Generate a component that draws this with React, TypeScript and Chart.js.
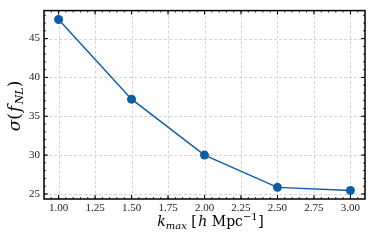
import React, { useEffect, useRef } from "react";
import { Chart, registerables } from "chart.js";

Chart.register(...registerables);

const kmax = [1.0, 1.5, 2.0, 2.5, 3.0];
const sigmaFNL = [47.45, 37.2, 30.0, 25.85, 25.45];
const xMajorTicks = [1.0, 1.25, 1.5, 1.75, 2.0, 2.25, 2.5, 2.75, 3.0];
const yMajorTicks = [25, 30, 35, 40, 45];

const LINE_COLOR = "#0C5DA5";
const FONT = "'Liberation Serif', 'DejaVu Serif', serif";
const TFONT = "'DejaVu Serif', serif";

function range(a: number, b: number, step: number) {
  const out: number[] = [];
  for (let v = a; v <= b + 1e-9; v += step) out.push(Math.round(v * 1000) / 1000);
  return out;
}

const framePlugin = {
  id: "framePlugin",
  beforeDatasetsDraw(chart: any) {
    const { ctx, chartArea: a, scales } = chart;
    const xs = scales.x, ys = scales.y;
    ctx.save();
    ctx.beginPath();
    ctx.rect(a.left, a.top, a.right - a.left, a.bottom - a.top);
    ctx.clip();
    ctx.strokeStyle = "#c9c9c9";
    ctx.lineWidth = 0.8;
    ctx.setLineDash([3, 2]);
    for (const v of xMajorTicks) {
      const px = Math.round(xs.getPixelForValue(v)) + 0.5;
      ctx.beginPath();
      ctx.moveTo(px, a.top);
      ctx.lineTo(px, a.bottom);
      ctx.stroke();
    }
    for (const v of yMajorTicks) {
      const py = Math.round(ys.getPixelForValue(v)) + 0.5;
      ctx.beginPath();
      ctx.moveTo(a.left, py);
      ctx.lineTo(a.right, py);
      ctx.stroke();
    }
    ctx.restore();
  },
  afterDatasetsDraw(chart: any) {
    const { ctx, chartArea: a, scales } = chart;
    const xs = scales.x, ys = scales.y;
    ctx.save();
    ctx.strokeStyle = "#000";
    ctx.setLineDash([]);
    ctx.lineWidth = 0.8;
    const xMin = range(0.95, 3.05, 0.05);
    const yMin = range(25, 48, 1);
    for (const v of xMin) {
      const px = xs.getPixelForValue(v);
      ctx.beginPath();
      ctx.moveTo(px, a.bottom); ctx.lineTo(px, a.bottom - 2);
      ctx.moveTo(px, a.top); ctx.lineTo(px, a.top + 2);
      ctx.stroke();
    }
    for (const v of yMin) {
      const py = ys.getPixelForValue(v);
      ctx.beginPath();
      ctx.moveTo(a.left, py); ctx.lineTo(a.left + 2, py);
      ctx.moveTo(a.right, py); ctx.lineTo(a.right - 2, py);
      ctx.stroke();
    }
    ctx.lineWidth = 1;
    for (const v of xMajorTicks) {
      const px = xs.getPixelForValue(v);
      ctx.beginPath();
      ctx.moveTo(px, a.bottom); ctx.lineTo(px, a.bottom - 4);
      ctx.moveTo(px, a.top); ctx.lineTo(px, a.top + 4);
      ctx.stroke();
    }
    for (const v of yMajorTicks) {
      const py = ys.getPixelForValue(v);
      ctx.beginPath();
      ctx.moveTo(a.left, py); ctx.lineTo(a.left + 4, py);
      ctx.moveTo(a.right, py); ctx.lineTo(a.right - 4, py);
      ctx.stroke();
    }
    ctx.lineWidth = 1.5;
    ctx.strokeRect(a.left, a.top, a.right - a.left, a.bottom - a.top);

    type Seg = { t: string; f: string; dy: number; gap?: number };
    const drawSegs = (segs: Seg[], cx: number, baseY: number) => {
      let total = 0;
      for (const s of segs) { ctx.font = s.f; total += ctx.measureText(s.t).width + (s.gap || 0); }
      let x = cx - total / 2;
      ctx.textBaseline = "alphabetic";
      ctx.textAlign = "left";
      ctx.fillStyle = "#000";
      for (const s of segs) {
        ctx.font = s.f;
        ctx.fillText(s.t, x, baseY + s.dy);
        x += ctx.measureText(s.t).width + (s.gap || 0);
      }
    };
    const it = (sz: number) => `italic ${sz}px ${TFONT}`;
    const rm = (sz: number) => `${sz}px ${TFONT}`;
    drawSegs(
      [
        { t: "k", f: it(14), dy: 0 },
        { t: "max", f: it(10), dy: 2.5 },
        { t: " [", f: rm(14), dy: 0, gap: 1.5 },
        { t: "h", f: it(14), dy: 0 },
        { t: " Mpc", f: rm(14), dy: 0 },
        { t: "\u22121", f: rm(10), dy: -6, gap: 0.5 },
        { t: "]", f: rm(14), dy: 0, gap: 1 },
      ],
      211,
      226
    );
    ctx.save();
    ctx.translate(20, 106);
    ctx.rotate(-Math.PI / 2);
    drawSegs(
      [
        { t: "\u03C3", f: it(17), dy: 0 },
        { t: "(", f: rm(17), dy: 0, gap: 1 },
        { t: "f", f: it(17), dy: 0, gap: 1.5 },
        { t: "NL", f: it(11), dy: 3 },
        { t: ")", f: rm(17), dy: 0 },
      ],
      0,
      0
    );
    ctx.restore();
    ctx.restore();
  },
};

export default function App() {
  const ref = useRef<HTMLCanvasElement>(null);
  useEffect(() => {
    document.body.style.margin = "0";
    const chart = new Chart(ref.current!, {
      type: "line",
      data: {
        labels: kmax,
        datasets: [
          {
            data: kmax.map((x, i) => ({ x, y: sigmaFNL[i] })),
            borderColor: LINE_COLOR,
            backgroundColor: LINE_COLOR,
            borderWidth: 1.4,
            pointRadius: 4.5,
            pointHoverRadius: 4.5,
            pointBorderWidth: 0,
            tension: 0,
          },
        ],
      },
      options: {
        animation: false,
        responsive: false,
        events: [],
        layout: { padding: { top: 7, right: 9, left: 0, bottom: 0 } },
        plugins: { legend: { display: false }, tooltip: { enabled: false } },
        scales: {
          x: {
            type: "linear",
            min: 0.9,
            max: 3.1,
            grid: { display: false, drawTicks: false },
            border: { display: false },
            afterBuildTicks: (s: any) => {
              s.ticks = xMajorTicks.map((v) => ({ value: v }));
            },
            afterFit: (s: any) => {
              s.height = 45;
            },
            ticks: {
              padding: 3,
              maxRotation: 0,
              autoSkip: false,
              color: "#222",
              font: { family: FONT, size: 11 },
              callback: (v: any) => Number(v).toFixed(2),
            },
          },
          y: {
            type: "linear",
            min: 24.35,
            max: 48.6,
            grid: { display: false, drawTicks: false },
            border: { display: false },
            afterBuildTicks: (s: any) => {
              s.ticks = yMajorTicks.map((v) => ({ value: v }));
            },
            afterFit: (s: any) => {
              s.width = 44;
            },
            ticks: {
              padding: 4,
              autoSkip: false,
              color: "#222",
              font: { family: FONT, size: 11 },
              callback: (v: any) => String(v),
            },
          },
        },
      },
      plugins: [framePlugin],
    } as any);
    return () => chart.destroy();
  }, []);
  return <canvas ref={ref} width={374} height={244} style={{ display: "block" }} />;
}
